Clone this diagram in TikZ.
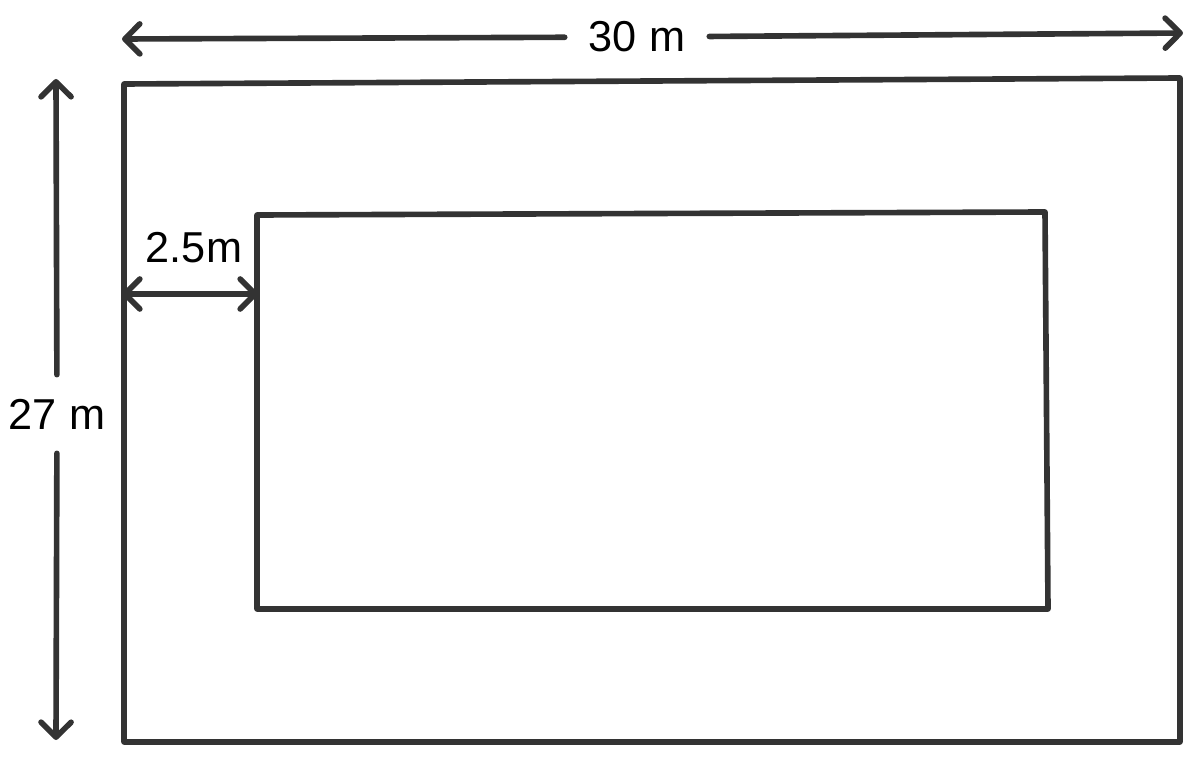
\documentclass[tikz,border=0pt]{standalone}
\usepackage{fontspec}
\setmainfont{Liberation Sans}
\usetikzlibrary{arrows.meta}
\definecolor{linegray}{HTML}{333333}

\tikzset{
  wall/.style={draw=linegray,line width=1.6pt,line join=round,line cap=round},
  barb/.tip={Straight Barb[length=1.5mm,width=3mm,line cap=round,line join=round]},
  dimline/.style={draw=linegray,line width=1.6pt,line cap=round},
  dimlabel/.style={inner sep=0.235cm,font=\fontsize{12.3}{14}\selectfont},
}

\begin{document}
\begin{tikzpicture}[x=0.01cm,y=-0.01cm]
  \useasboundingbox (0,0) rectangle (1200,767);
  % corners of the plot
  \coordinate (otl) at (124,84);
  \coordinate (otr) at (1180,78);
  \coordinate (obr) at (1180,742);
  \coordinate (obl) at (124,742);
  % corners of the inner part
  \coordinate (itl) at (257,215);
  \coordinate (itr) at (1045,212);
  \coordinate (ibr) at (1048,609);
  \coordinate (ibl) at (257,609);
  \draw[wall] (otl) -- (otr) -- (obr) -- (obl) -- cycle;
  \draw[wall] (itl) -- (itr) -- (ibr) -- (ibl) -- cycle;

  % 30 m
  \coordinate (wleft) at (122,39);
  \coordinate (wright) at (1183,33);
  \node[dimlabel] (width) at (637,37) {30 m};
  \draw[dimline,-barb] (width) -- (wleft);
  \draw[dimline,-barb] (width) -- (wright);

  % 27 m
  \coordinate (htop) at (56,79);
  \coordinate (hbot) at (56,740);
  \node[dimlabel] (height) at (57,414) {27 m};
  \draw[dimline,-barb] (height) -- (htop);
  \draw[dimline,-barb] (height) -- (hbot);

  % 2.5m
  \coordinate (pleft) at (122,294);
  \coordinate (pright) at (258,294);
  \draw[dimline,barb-barb] (pleft) -- (pright);
  \node[dimlabel,inner sep=0pt] (path) at (194,248) {2.5m};
\end{tikzpicture}
\end{document}
